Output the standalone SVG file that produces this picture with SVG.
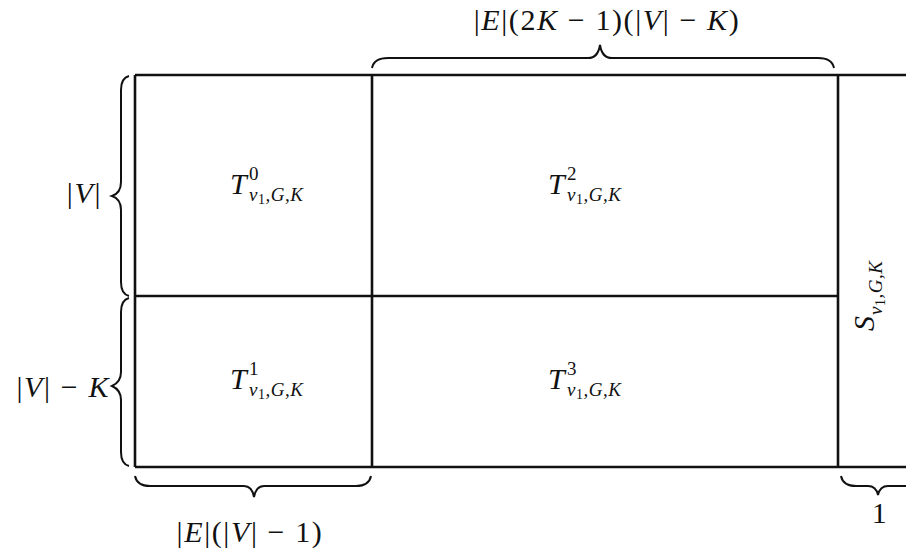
<svg xmlns="http://www.w3.org/2000/svg" width="906" height="554" viewBox="0 0 906 554">
<style>
text{font-family:"Liberation Serif","Times New Roman",serif;fill:#111}
.m{font-size:30px;letter-spacing:1.6px}
.i{font-style:italic}
.t{font-size:30px;font-style:italic}
.grid{stroke:#111;stroke-width:2.6;fill:none}
.br{stroke:#111;stroke-width:2;fill:none}
.sup{font-size:19px}
.sub{font-size:19px;font-style:italic;letter-spacing:0.5px}
.sub1{font-size:14px;font-style:normal}
</style>
<rect width="906" height="554" fill="#fff"/>
<g id="grid">
<path class="grid" d="M135 75 H906 M135 467 H906 M135 75 V467 M372 75 V467 M838 75 V467 M135 296 H838"/>
</g>
<g id="connectors">
<path id="brace-top" class="br" d="M372 68 Q374 58 388 58 L588 58 Q598 58 600 45 Q602 58 612 58 L818 58 Q832 58 834 68"/>
<path id="brace-left1" class="br" d="M129 76 Q121 78 121 90 L121 182 Q121 193 112 196 Q121 199 121 210 L121 282 Q121 294 129 296"/>
<path id="brace-left2" class="br" d="M129 298 Q121 300 121 312 L121 372 Q121 382 112 386 Q121 390 121 400 L121 452 Q121 464 129 466"/>
<path id="brace-bottom" class="br" d="M135 476 Q137 486 150 486 L244 486 Q252 486 254 497 Q256 486 264 486 L356 486 Q369 486 371 476"/>
<path id="brace-right" class="br" d="M841 476 Q843 486 856 486 L868 486 Q876 486 878 495 Q880 486 888 486 L906 486"/>
</g>
<g id="label-top"><text class="m" x="607" y="30" text-anchor="middle">|<tspan class="i">E</tspan>|(2<tspan class="i">K</tspan> − 1)(|<tspan class="i">V</tspan>| − <tspan class="i">K</tspan>)</text></g>
<g id="label-V"><text class="m" x="102" y="203" text-anchor="end">|<tspan class="i">V</tspan>|</text></g>
<g id="label-VK"><text class="m" x="110" y="397" text-anchor="end">|<tspan class="i">V</tspan>| − <tspan class="i">K</tspan></text></g>
<g id="label-bottom"><text class="m" x="250" y="542" text-anchor="middle">|<tspan class="i">E</tspan>|(|<tspan class="i">V</tspan>| − 1)</text></g>
<g id="label-one"><text class="m" x="880" y="523" text-anchor="middle">1</text></g>
<g id="T0">
<text class="t" x="230" y="194">T</text>
<text class="sup" x="249" y="180">0</text>
<text class="sub" x="249" y="201">v<tspan class="sub1" dy="3">1</tspan><tspan dy="-3">,G,K</tspan></text>
</g>
<g id="T2">
<text class="t" x="548" y="194">T</text>
<text class="sup" x="567" y="180">2</text>
<text class="sub" x="567" y="201">v<tspan class="sub1" dy="3">1</tspan><tspan dy="-3">,G,K</tspan></text>
</g>
<g id="T1">
<text class="t" x="230" y="389">T</text>
<text class="sup" x="249" y="375">1</text>
<text class="sub" x="249" y="396">v<tspan class="sub1" dy="3">1</tspan><tspan dy="-3">,G,K</tspan></text>
</g>
<g id="T3">
<text class="t" x="548" y="389">T</text>
<text class="sup" x="567" y="375">3</text>
<text class="sub" x="567" y="396">v<tspan class="sub1" dy="3">1</tspan><tspan dy="-3">,G,K</tspan></text>
</g>
<g id="S" transform="translate(874 331) rotate(-90)">
<text class="t" x="0" y="0">S</text>
<text class="sub" x="16" y="8">v<tspan class="sub1" dy="3">1</tspan><tspan dy="-3">,G,K</tspan></text>
</g>
</svg>
